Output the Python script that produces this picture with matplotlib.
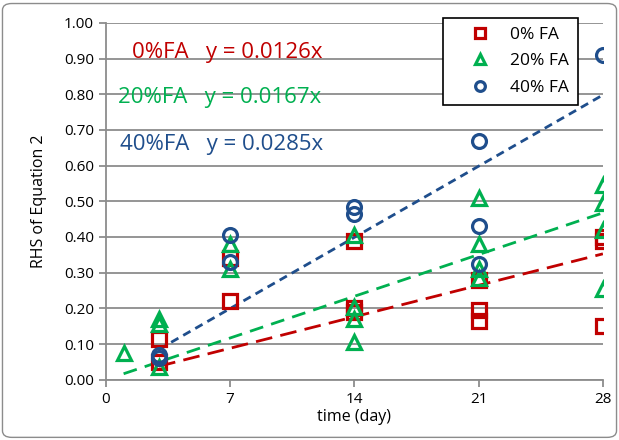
import matplotlib.pyplot as plt
import numpy as np
from matplotlib.patches import FancyBboxPatch

# datos (tiempo en dias, RHS de la ecuacion 2)
t_fa0 = [3, 3, 7, 7, 14, 14, 14, 21, 21, 21, 28, 28, 28]
y_fa0 = [0.115, 0.05, 0.34, 0.22, 0.39, 0.20, 0.19, 0.28, 0.195, 0.165, 0.40, 0.39, 0.15]

t_fa20 = [1, 3, 3, 3, 7, 7, 14, 14, 14, 14, 21, 21, 21, 21, 28, 28, 28, 28]
y_fa20 = [0.075, 0.17, 0.155, 0.035, 0.38, 0.31, 0.405, 0.205, 0.17, 0.105,
          0.51, 0.38, 0.31, 0.285, 0.545, 0.495, 0.42, 0.255]

t_fa40 = [3, 3, 7, 7, 14, 14, 21, 21, 21, 28]
y_fa40 = [0.07, 0.06, 0.405, 0.33, 0.485, 0.465, 0.67, 0.43, 0.325, 0.91]

# pendientes de las rectas de ajuste
slopes = [0.0126, 0.0167, 0.0285]
labels = ["0% FA", "20% FA", "40% FA"]
colors = ["#C00000", "#00B050", "#1F4E8C"]

plt.rcParams['font.family'] = ['Open Sans', 'DejaVu Sans']
fig, ax = plt.subplots(figsize=(6.19, 4.4), dpi=100)
fig.subplots_adjust(left=0.171, right=0.974, top=0.948, bottom=0.137)

series = [(t_fa0, y_fa0, 's'), (t_fa20, y_fa20, '^'), (t_fa40, y_fa40, 'o')]
for (t, y, m), lab, c in zip(series, labels, colors):
    ax.plot(t, y, m, mfc='none', mec=c, mew=2.3, ms=10, label=lab, zorder=3)

# rectas de tendencia
dashes = [(6, 3), (5, 3), (3, 2)]
for (t, y, m), s, c, d in zip(series, slopes, colors, dashes):
    xx = np.array([min(t), max(t)])
    ax.plot(xx, s * xx, color=c, lw=2, dashes=d, zorder=2)

# texto de las ecuaciones
txt = ["0%FA   y = 0.0126x", "20%FA   y = 0.0167x", "40%FA   y = 0.0285x"]
pos = [(1.5, 0.916), (0.68, 0.790), (0.79, 0.658)]
for s, (x, y), c in zip(txt, pos, colors):
    ax.text(x, y, s, color=c, fontsize=16, va='center')

ax.set_xlim(0, 28)
ax.set_ylim(0, 1.0)
ax.set_xticks([0, 7, 14, 21, 28])
ax.set_yticks(np.arange(0, 1.01, 0.1))
ax.set_yticklabels([f"{v:.2f}" for v in np.arange(0, 1.01, 0.1)])
ax.yaxis.grid(True, color='#8C8C8C', lw=1.3)
ax.set_axisbelow(True)
for sp in ['top', 'right']:
    ax.spines[sp].set_visible(False)
for sp in ['left', 'bottom']:
    ax.spines[sp].set_color('#8C8C8C')
    ax.spines[sp].set_linewidth(1.3)
ax.tick_params(colors='#8C8C8C', labelcolor='black', labelsize=11, width=1.3, length=5)

ax.set_xlabel("time (day)", fontsize=11.5, labelpad=2)
ax.set_ylabel("RHS of Equation 2", fontsize=11.5, labelpad=12)

leg = ax.legend(loc='upper right', bbox_to_anchor=(0.95, 1.014), fontsize=12.5,
                frameon=True, fancybox=False, edgecolor='black', framealpha=1,
                handletextpad=0.1, borderpad=0.5, labelspacing=0.6,
                handlelength=3.3, markerscale=0.7, borderaxespad=0)
leg.get_frame().set_linewidth(1.2)

# borde exterior redondeado
fig.patches.append(FancyBboxPatch((0.004, 0.006), 0.992, 0.986, boxstyle="round,pad=0,rounding_size=0.015",
                                  transform=fig.transFigure, fill=False, ec='#8C8C8C', lw=1))

fig.savefig("out.png", dpi=100)
